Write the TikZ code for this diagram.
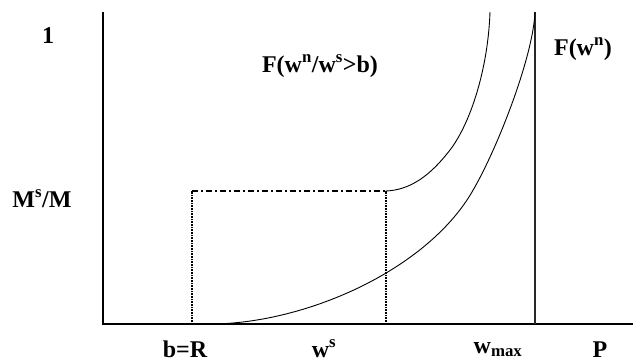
\documentclass[tikz,border=0pt]{standalone}
\usepackage{fontspec}
\setmainfont{Liberation Serif}
\usepackage{tikz}
\usetikzlibrary{positioning}
\definecolor{axisgray}{RGB}{40,40,40}

\begin{document}
\begin{tikzpicture}[x=1pt, y=-1pt,
      lbl/.style={font=\fontsize{24}{28}\selectfont\bfseries, anchor=base, inner sep=0pt},
      axis/.style={draw=black, line width=1.4pt},
      curve/.style={draw=black, line width=0.9pt},
      dotline/.style={draw=black, line width=1.5pt, dash pattern=on 1pt off 0.6pt},
      dashdotline/.style={draw=black, line width=1.3pt, dash pattern=on 6pt off 3pt on 2pt off 3pt}
  ]
    \useasboundingbox (0,0) rectangle (633,362);

    % axes
    \coordinate (orig) at (103,324);
    \coordinate (ytop) at (103,12);
    \coordinate (xend) at (633,324);
    \coordinate (wmaxbot) at (535,324);
    \coordinate (wmaxtop) at (535,12);
    \draw[axis] (ytop) -- (orig) -- (xend);
    \draw[axis, draw=axisgray, line width=1.1pt] (wmaxbot) -- (wmaxtop);

    % b=R and w^s box
    \coordinate (bbot) at (192,324);
    \coordinate (btop) at (192,191);
    \coordinate (wsbot) at (386,324);
    \coordinate (wstop) at (386,191);
    \draw[dotline] (bbot) -- (btop);
    \draw[dotline] (wsbot) -- (wstop);
    \draw[dashdotline] (btop) -- (wstop);

    % F(w^n)
    \coordinate (fstart) at (210,324);
    \coordinate (fmid) at (467,200);
    \draw[curve] (fstart) .. controls (300,324) and (417,275) .. (fmid)
      .. controls (492,162.5) and (533,60) .. (wmaxtop);

    % F(w^n/w^s>b)
    \coordinate (gmid) at (450,150);
    \coordinate (gtop) at (490,12);
    \draw[curve] (wstop) .. controls (410,190) and (430,176) .. (gmid)
      .. controls (470,124) and (488,70) .. (gtop);

    % labels
    \node[lbl] (one) at (48,43) {1};
    \node[lbl] (fcond) at (320,72) {F(w\textsuperscript{n}/w\textsuperscript{s}>b)};
    \node[lbl] (fwn) at (583,55) {F(w\textsuperscript{n})};
    \node[lbl] (msm) at (42,207) {M\textsuperscript{s}/M};
    \node[lbl] (blbl) at (185,357) {b=R};
    \node[lbl] (wslbl) at (324,357) {w\textsuperscript{s}};
    \node[lbl] (wmaxlbl) at (498,353) {w\textsubscript{max}};
    \node[lbl] (plbl) at (600,357) {P};
  \end{tikzpicture}
\end{document}
